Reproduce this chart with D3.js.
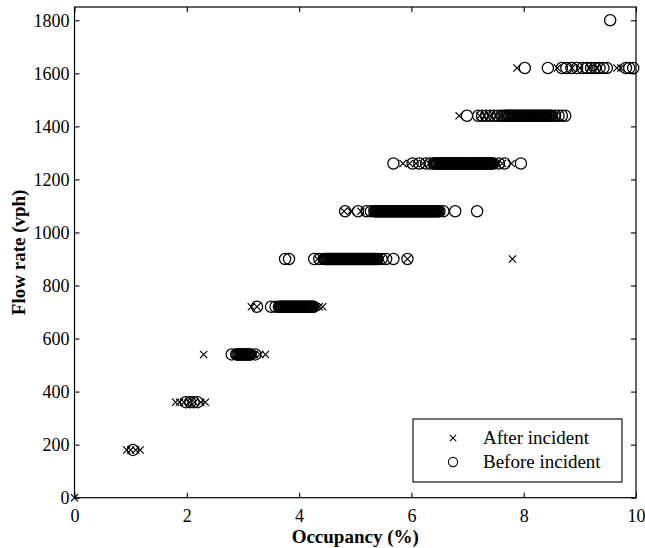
<!DOCTYPE html>
<html>
<head>
<meta charset="utf-8">
<script src="https://cdn.jsdelivr.net/npm/d3@7"></script>
<style>
  html, body { margin: 0; padding: 0; background: #fff; }
  svg { display: block; }
  text { font-family: "Liberation Serif", "Times New Roman", serif; fill: #000; }
</style>
</head>
<body>
<svg id="chart" width="645" height="548"></svg>
<script>
// ---------- DATA ----------
const xTicks = [0, 2, 4, 6, 8, 10];
const yTicks = [0, 200, 400, 600, 800, 1000, 1200, 1400, 1600, 1800];
const seriesNames = ["After incident", "Before incident"];

// "After incident" occupancy values (%) at each flow level (vph)
const after0 = [0];
const after180 = [0.93, 1.0, 1.09, 1.17];
const after360 = [1.8, 1.87, 1.95, 2.04, 2.14, 2.25, 2.33];
const after540 = [2.3, 2.9, 2.95, 3.0, 3.04, 3.08, 3.12, 3.2, 3.3, 3.4];
const after720 = [3.15, 3.25, 3.62, 3.68, 3.73, 3.78, 3.82, 3.87, 3.91, 3.96, 4.0, 4.05, 4.1, 4.14, 4.19, 4.24, 4.3, 4.36, 4.42];
const after900 = [4.33, 4.47, 4.52, 4.56, 4.6, 4.64, 4.69, 4.73, 4.78, 4.82, 4.87, 4.91, 4.95, 5.0, 5.04, 5.09, 5.13, 5.18, 5.22, 5.27, 5.31, 5.36, 5.4, 5.47, 5.93, 7.8];
const after1080 = [4.8, 4.92, 5.1, 5.3, 5.35, 5.39, 5.43, 5.47, 5.52, 5.56, 5.6, 5.65, 5.69, 5.73, 5.78, 5.82, 5.86, 5.91, 5.95, 6.0, 6.04, 6.08, 6.13, 6.17, 6.22, 6.26, 6.3, 6.35, 6.39, 6.44, 6.48, 6.52];
const after1260 = [5.85, 5.97, 6.08, 6.2, 6.32, 6.44, 6.52, 6.56, 6.6, 6.64, 6.68, 6.72, 6.76, 6.8, 6.84, 6.88, 6.92, 6.96, 7.0, 7.04, 7.08, 7.12, 7.16, 7.2, 7.24, 7.28, 7.32, 7.36, 7.4, 7.44, 7.52, 7.62, 7.78];
const after1440 = [6.85, 7.22, 7.3, 7.4, 7.5, 7.62, 7.72, 7.78, 7.84, 7.9, 7.96, 8.02, 8.08, 8.14, 8.2, 8.26, 8.32, 8.38, 8.44, 8.5, 8.58];
const after1620 = [7.88, 8.6, 8.86, 9.0, 9.18, 9.3, 9.66, 9.73];
const after1800 = [];

// "Before incident" occupancy values (%) at each flow level (vph)
const before0 = [];
const before180 = [1.04];
const before360 = [1.98, 2.06, 2.12, 2.19];
const before540 = [2.8, 2.88, 2.9, 2.92, 2.94, 2.96, 2.98, 3.0, 3.02, 3.04, 3.06, 3.08, 3.1, 3.12, 3.14, 3.22];
const before720 = [3.25, 3.5, 3.58, 3.64, 3.66, 3.68, 3.7, 3.72, 3.74, 3.76, 3.78, 3.8, 3.82, 3.84, 3.86, 3.88, 3.9, 3.92, 3.94, 3.96, 3.98, 4.0, 4.02, 4.04, 4.06, 4.08, 4.1, 4.12, 4.14, 4.16, 4.18, 4.2, 4.22, 4.24, 4.26];
const before900 = [3.75, 3.82, 4.27, 4.36, 4.44, 4.46, 4.48, 4.5, 4.52, 4.54, 4.56, 4.58, 4.6, 4.62, 4.64, 4.66, 4.68, 4.7, 4.72, 4.74, 4.76, 4.78, 4.8, 4.82, 4.84, 4.86, 4.88, 4.9, 4.92, 4.94, 4.96, 4.98, 5.0, 5.02, 5.04, 5.06, 5.08, 5.1, 5.12, 5.14, 5.16, 5.18, 5.2, 5.22, 5.24, 5.26, 5.28, 5.3, 5.32, 5.34, 5.36, 5.38, 5.4, 5.47, 5.55, 5.68, 5.93];
const before1080 = [4.82, 5.05, 5.2, 5.28, 5.34, 5.36, 5.38, 5.4, 5.42, 5.44, 5.46, 5.48, 5.5, 5.52, 5.54, 5.56, 5.58, 5.6, 5.62, 5.64, 5.66, 5.68, 5.7, 5.72, 5.74, 5.76, 5.78, 5.8, 5.82, 5.84, 5.86, 5.88, 5.9, 5.92, 5.94, 5.96, 5.98, 6.0, 6.02, 6.04, 6.06, 6.08, 6.1, 6.12, 6.14, 6.16, 6.18, 6.2, 6.22, 6.24, 6.26, 6.28, 6.3, 6.32, 6.34, 6.36, 6.38, 6.4, 6.42, 6.44, 6.46, 6.48, 6.5, 6.57, 6.78, 7.17];
const before1260 = [5.68, 6.02, 6.14, 6.26, 6.34, 6.4, 6.42, 6.44, 6.46, 6.48, 6.5, 6.52, 6.54, 6.56, 6.58, 6.6, 6.62, 6.64, 6.66, 6.68, 6.7, 6.72, 6.74, 6.76, 6.78, 6.8, 6.82, 6.84, 6.86, 6.88, 6.9, 6.92, 6.94, 6.96, 6.98, 7.0, 7.02, 7.04, 7.06, 7.08, 7.1, 7.12, 7.14, 7.16, 7.18, 7.2, 7.22, 7.24, 7.26, 7.28, 7.3, 7.32, 7.34, 7.36, 7.38, 7.4, 7.42, 7.44, 7.46, 7.56, 7.66, 7.95];
const before1440 = [6.99, 7.19, 7.26, 7.33, 7.4, 7.47, 7.54, 7.6, 7.64, 7.68, 7.7, 7.73, 7.75, 7.78, 7.8, 7.83, 7.85, 7.88, 7.9, 7.93, 7.95, 7.98, 8.0, 8.03, 8.05, 8.08, 8.1, 8.13, 8.15, 8.18, 8.2, 8.23, 8.25, 8.28, 8.3, 8.33, 8.35, 8.38, 8.4, 8.43, 8.45, 8.48, 8.5, 8.56, 8.62, 8.68, 8.74];
const before1620 = [8.02, 8.43, 8.68, 8.76, 8.85, 8.95, 9.05, 9.12, 9.2, 9.27, 9.35, 9.42, 9.48, 9.82, 9.88, 9.95];
const before1800 = [9.54];

const flowLevels = [0, 180, 360, 540, 720, 900, 1080, 1260, 1440, 1620, 1800];
const afterLists = [after0, after180, after360, after540, after720, after900, after1080, after1260, after1440, after1620, after1800];
const beforeLists = [before0, before180, before360, before540, before720, before900, before1080, before1260, before1440, before1620, before1800];

const afterPts = [];
const beforePts = [];
flowLevels.forEach((f, i) => {
  afterLists[i].forEach(o => afterPts.push({occ: o, flow: f}));
  beforeLists[i].forEach(o => beforePts.push({occ: o, flow: f}));
});

// ---------- LAYOUT ----------
const svg = d3.select("#chart");
const pL = 74.5, pR = 636, pT = 7, pB = 497.7;
const x = d3.scaleLinear().domain([0, 10]).range([pL, pR]);
const y = d3.scaleLinear().domain([0, 1850]).range([pB, pT]);

const tickFont = "18px";

// Frame
svg.append("rect")
  .attr("x", pL).attr("y", pT)
  .attr("width", pR - pL).attr("height", pB - pT)
  .attr("fill", "none").attr("stroke", "#000").attr("stroke-width", 1.2);

// Axes with inward ticks
const xAxisB = d3.axisBottom(x).tickValues(xTicks).tickSize(-5).tickPadding(12).tickFormat(d3.format("d"));
const xAxisT = d3.axisTop(x).tickValues(xTicks).tickSize(-5).tickFormat("");
const yAxisL = d3.axisLeft(y).tickValues(yTicks).tickSize(-5).tickPadding(5).tickFormat(d3.format("d"));
const yAxisR = d3.axisRight(y).tickValues(yTicks).tickSize(-5).tickFormat("");

function style(g) {
  g.select(".domain").remove();
  g.selectAll(".tick line").attr("stroke", "#000").attr("stroke-width", 1.1);
  g.selectAll(".tick text").style("font-family", "Liberation Serif, serif").style("font-size", tickFont).attr("fill", "#000");
}
svg.append("g").attr("transform", `translate(0,${pB})`).call(xAxisB).call(style);
svg.append("g").attr("transform", `translate(0,${pT})`).call(xAxisT).call(style);
svg.append("g").attr("transform", `translate(${pL},0)`).call(yAxisL).call(style);
svg.append("g").attr("transform", `translate(${pR},0)`).call(yAxisR).call(style);

// Axis titles
svg.append("text")
  .attr("x", (pL + pR) / 2).attr("y", 543)
  .attr("text-anchor", "middle")
  .style("font-size", "19px").style("font-weight", "bold")
  .text("Occupancy (%)");
svg.append("text")
  .attr("transform", `translate(25,${(pT + pB) / 2}) rotate(-90)`)
  .attr("text-anchor", "middle")
  .style("font-size", "19px").style("font-weight", "bold")
  .text("Flow rate (vph)");

// Markers
const plot = svg.append("g");
const cr = 5.6, xs = 3.6;

plot.selectAll("circle.before").data(beforePts).enter().append("circle")
  .attr("class", "before")
  .attr("cx", d => x(d.occ)).attr("cy", d => y(d.flow)).attr("r", cr)
  .attr("fill", "none").attr("stroke", "#000").attr("stroke-width", 1.25);

plot.selectAll("path.after").data(afterPts).enter().append("path")
  .attr("class", "after")
  .attr("transform", d => `translate(${x(d.occ)},${y(d.flow)})`)
  .attr("d", `M${-xs},${-xs}L${xs},${xs}M${-xs},${xs}L${xs},${-xs}`)
  .attr("fill", "none").attr("stroke", "#000").attr("stroke-width", 1.2);

// Legend
const lg = svg.append("g");
lg.append("rect")
  .attr("x", 413).attr("y", 419).attr("width", 209).attr("height", 63)
  .attr("fill", "#fff").attr("stroke", "#000").attr("stroke-width", 1.1);
const ls = 3.2;
lg.append("path")
  .attr("transform", "translate(453,438)")
  .attr("d", `M${-ls},${-ls}L${ls},${ls}M${-ls},${ls}L${ls},${-ls}`)
  .attr("stroke", "#000").attr("stroke-width", 1.1);
lg.append("circle").attr("cx", 453).attr("cy", 462).attr("r", 4.6)
  .attr("fill", "none").attr("stroke", "#000").attr("stroke-width", 1.1);
lg.append("text").attr("x", 483).attr("y", 444).style("font-size", "19px").text(seriesNames[0]);
lg.append("text").attr("x", 483).attr("y", 468).style("font-size", "19px").text(seriesNames[1]);
</script>
</body>
</html>
